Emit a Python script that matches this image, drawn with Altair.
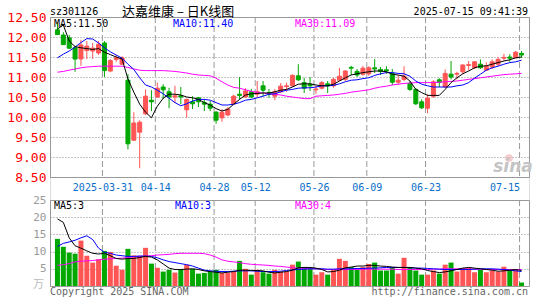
import altair as alt
import pandas as pd

# ---------------- data ----------------
dates = (
    ["2025-03-19", "2025-03-20", "2025-03-21", "2025-03-24", "2025-03-25", "2025-03-26",
     "2025-03-27", "2025-03-28", "2025-03-31"]
    + ["2025-04-%02d" % d for d in [1, 2, 3, 7, 8, 9, 10, 11, 14, 15, 16, 17, 18, 21, 22, 23, 24, 25, 28, 29, 30]]
    + ["2025-05-%02d" % d for d in [6, 7, 8, 9, 12, 13, 14, 15, 16, 19, 20, 21, 22, 23, 26, 27, 28, 29, 30]]
    + ["2025-06-%02d" % d for d in [3, 4, 5, 6, 9, 10, 11, 12, 13, 16, 17, 18, 19, 20, 23, 24, 25, 26, 27, 30]]
    + ["2025-07-%02d" % d for d in [1, 2, 3, 4, 7, 8, 9, 10, 11, 14, 15]]
)

opens = [12.18, 12.05, 11.98, 11.73, 11.45, 11.66, 11.65, 11.60, 11.85, 11.15,
         11.44, 11.32, 10.92, 9.42, 9.62, 10.08, 10.42, 10.50, 10.75, 10.63,
         10.50, 10.53, 10.18, 10.38, 10.48, 10.36, 10.32, 10.12, 9.98, 10.05,
         10.33, 10.57, 10.50, 10.63, 10.57, 10.78, 10.61, 10.52, 10.63, 10.76,
         10.78, 11.03, 10.86, 10.82, 10.68, 10.72, 10.83, 10.78, 10.92, 10.94,
         11.24, 11.14, 11.07, 11.08, 11.23, 11.19, 11.18, 11.09, 10.87, 10.94,
         10.84, 10.69, 10.38, 10.22, 10.52, 10.93, 10.75, 11.07, 11.07, 11.13,
         11.29, 11.23, 11.32, 11.17, 11.25, 11.32, 11.47, 11.50, 11.48, 11.59]
highs = [12.35, 12.12, 12.05, 11.78, 11.93, 11.90, 11.85, 11.90, 11.90, 11.45,
         11.55, 11.52, 11.07, 10.12, 9.92, 10.69, 10.67, 10.86, 10.82, 10.73,
         10.78, 10.75, 10.46, 10.52, 10.50, 10.44, 10.40, 10.15, 10.20, 10.25,
         10.55, 11.00, 10.72, 10.70, 10.90, 10.90, 10.70, 10.70, 10.85, 10.86,
         11.07, 11.32, 10.98, 11.00, 10.78, 10.90, 10.90, 10.98, 11.23, 11.17,
         11.28, 11.20, 11.28, 11.27, 11.45, 11.25, 11.27, 11.20, 11.05, 11.27,
         10.90, 10.72, 10.44, 10.57, 10.92, 10.97, 11.19, 11.40, 11.13, 11.32,
         11.40, 11.40, 11.44, 11.37, 11.44, 11.50, 11.58, 11.57, 11.65, 11.65]
lows = [12.05, 11.80, 11.70, 11.13, 11.28, 11.45, 11.45, 11.55, 11.00, 11.12,
        11.38, 11.30, 9.19, 9.40, 8.72, 10.05, 10.15, 10.48, 10.45, 10.22,
        10.35, 10.32, 9.98, 10.20, 10.25, 10.15, 10.15, 9.83, 9.88, 10.02,
        10.30, 10.44, 10.48, 10.47, 10.48, 10.52, 10.48, 10.42, 10.60, 10.63,
        10.75, 10.90, 10.60, 10.65, 10.58, 10.69, 10.60, 10.73, 10.90, 10.90,
        11.05, 11.00, 11.03, 11.03, 11.10, 11.05, 11.08, 10.80, 10.80, 10.90,
        10.65, 10.30, 10.20, 10.09, 10.48, 10.75, 10.73, 10.94, 10.94, 11.07,
        11.17, 11.20, 11.20, 11.16, 11.20, 11.27, 11.40, 11.38, 11.47, 11.48]
closes = [12.06, 11.81, 11.72, 11.45, 11.80, 11.77, 11.72, 11.82, 11.16, 11.41,
          11.48, 11.48, 9.33, 9.85, 9.87, 10.52, 10.38, 10.72, 10.68, 10.50,
          10.53, 10.50, 10.44, 10.33, 10.38, 10.32, 10.22, 9.92, 10.12, 10.20,
          10.52, 10.54, 10.65, 10.50, 10.63, 10.67, 10.57, 10.63, 10.77, 10.78,
          11.04, 10.93, 10.72, 10.78, 10.70, 10.86, 10.78, 10.94, 11.02, 11.15,
          11.22, 11.05, 11.22, 11.23, 11.20, 11.14, 11.15, 10.87, 10.92, 11.02,
          10.69, 10.33, 10.23, 10.47, 10.88, 10.87, 11.09, 11.00, 11.09, 11.30,
          11.31, 11.38, 11.23, 11.27, 11.38, 11.44, 11.49, 11.47, 11.62, 11.55]

volumes = [13.7, 11.4, 9.7, 9.4, 13.2, 8.8, 6.8, 7.8, 10.2, 9.9,
           5.9, 4.7, 10.8, 8.9, 8.8, 11.1, 6.5, 5.3, 4.2, 4.7,
           3.9, 4.9, 6.2, 5.0, 3.6, 3.8, 4.2, 4.7, 3.8, 3.8,
           4.2, 7.3, 5.0, 3.3, 4.7, 4.0, 3.6, 4.7, 4.2, 4.2,
           6.2, 7.1, 5.5, 5.2, 3.3, 4.0, 3.3, 4.7, 7.9, 7.3,
           5.5, 4.7, 5.5, 6.4, 6.8, 4.5, 4.5, 5.5, 3.6, 8.2,
           5.5, 4.5, 3.3, 3.3, 4.5, 3.6, 6.2, 6.8, 4.2, 5.2,
           5.3, 4.0, 4.7, 4.0, 4.5, 4.2, 5.6, 4.7, 4.7, 1.0]

ma5 = [12.20, 12.30, 11.90, 11.76, 11.73, 11.71, 11.69, 11.71, 11.62, 11.56,
       11.50, 11.45, 10.95, 10.62, 10.32, 10.12, 9.98, 10.27, 10.47, 10.57,
       10.57, 10.55, 10.50, 10.48, 10.44, 10.36, 10.30, 10.21, 10.15, 10.19,
       10.32, 10.44, 10.55, 10.58, 10.59, 10.60, 10.60, 10.63, 10.67, 10.69,
       10.75, 10.82, 10.83, 10.83, 10.80, 10.78, 10.78, 10.82, 10.90, 10.98,
       11.05, 11.08, 11.11, 11.13, 11.15, 11.15, 11.13, 11.07, 11.05, 11.02,
       10.90, 10.69, 10.61, 10.54, 10.54, 10.54, 10.69, 10.86, 10.98, 11.08,
       11.15, 11.23, 11.27, 11.28, 11.32, 11.36, 11.40, 11.43, 11.48, 11.50]
ma10 = [11.48, 11.57, 11.65, 11.75, 11.86, 11.96, 11.95, 11.85, 11.73, 11.63,
        11.55, 11.47, 11.32, 11.19, 10.98, 10.80, 10.75, 10.67, 10.58, 10.47,
        10.36, 10.28, 10.33, 10.40, 10.44, 10.44, 10.42, 10.36, 10.30, 10.30,
        10.32, 10.36, 10.42, 10.44, 10.48, 10.52, 10.57, 10.58, 10.63, 10.67,
        10.69, 10.72, 10.73, 10.73, 10.75, 10.78, 10.78, 10.79, 10.83, 10.88,
        10.92, 10.93, 10.96, 10.98, 11.04, 11.08, 11.11, 11.11, 11.09, 11.08,
        11.02, 10.90, 10.82, 10.78, 10.75, 10.75, 10.75, 10.75, 10.78, 10.80,
        10.86, 10.97, 11.07, 11.17, 11.23, 11.27, 11.32, 11.36, 11.38, 11.42]
ma30 = [11.12, 11.14, 11.17, 11.20, 11.23, 11.25, 11.26, 11.27, 11.27, 11.27,
        11.27, 11.27, 11.24, 11.20, 11.17, 11.16, 11.16, 11.16, 11.16, 11.15,
        11.14, 11.12, 11.10, 11.07, 11.05, 11.04, 11.03, 10.97, 10.88, 10.80,
        10.74, 10.72, 10.68, 10.64, 10.62, 10.60, 10.58, 10.57, 10.55, 10.52,
        10.50, 10.48, 10.46, 10.46, 10.52, 10.53, 10.54, 10.55, 10.57, 10.59,
        10.62, 10.64, 10.66, 10.68, 10.72, 10.75, 10.77, 10.80, 10.82, 10.84,
        10.85, 10.86, 10.86, 10.86, 10.86, 10.87, 10.88, 10.89, 10.90, 10.92,
        10.94, 10.96, 10.98, 11.00, 11.02, 11.04, 11.06, 11.07, 11.08, 11.09]

vma5 = [19.5, 18.5, 14.0, 11.7, 11.0, 10.2, 9.5, 9.3, 9.5, 8.8,
        8.0, 7.8, 8.0, 8.0, 8.3, 8.6, 8.4, 7.6, 6.4, 5.2,
        4.8, 4.8, 4.9, 5.0, 4.8, 4.4, 4.2, 4.0, 3.8, 4.0,
        4.2, 4.6, 4.6, 4.5, 4.5, 4.4, 4.0, 3.8, 4.0, 4.2,
        4.6, 5.3, 5.4, 5.4, 5.2, 4.8, 4.1, 4.2, 4.6, 5.3,
        5.5, 5.8, 5.8, 6.0, 6.0, 5.8, 5.7, 5.5, 5.4, 5.4,
        5.4, 5.2, 5.0, 4.5, 4.2, 3.9, 4.1, 4.4, 4.8, 5.2,
        5.4, 5.2, 5.0, 4.8, 4.6, 4.3, 4.4, 4.6, 4.8, 4.5]
vma10 = [11.5, 12.4, 12.8, 13.3, 14.0, 14.6, 13.5, 11.0, 9.8, 9.5,
         9.0, 8.8, 8.6, 8.6, 8.7, 8.7, 8.6, 8.2, 7.6, 7.1,
         6.8, 6.5, 6.2, 5.8, 5.2, 4.6, 4.4, 4.3, 4.2, 4.2,
         4.3, 4.4, 4.4, 4.4, 4.3, 4.2, 4.2, 4.2, 4.3, 4.5,
         4.7, 4.8, 4.9, 5.0, 5.0, 5.0, 4.9, 4.9, 5.0, 5.0,
         5.0, 5.1, 5.1, 5.2, 5.2, 5.3, 5.4, 5.4, 5.4, 5.4,
         5.3, 5.2, 5.2, 5.1, 5.0, 4.9, 4.8, 4.8, 4.8, 4.8,
         4.8, 4.9, 5.0, 5.0, 5.0, 4.9, 4.8, 4.6, 4.4, 4.2]
vma30 = [6.0, 6.2, 6.5, 7.0, 7.2, 7.3, 7.4, 7.6, 7.8, 7.9,
         8.0, 8.1, 8.3, 8.5, 8.6, 8.7, 8.8, 9.0, 9.1, 9.2,
         9.4, 9.5, 9.5, 9.5, 9.5, 9.4, 9.0, 8.4, 7.6, 7.2,
         7.0, 6.8, 6.5, 6.3, 6.2, 6.1, 6.0, 5.8, 5.7, 5.5,
         5.3, 5.2, 5.1, 5.0, 5.0, 4.9, 4.8, 4.8, 4.8, 4.8,
         4.8, 4.8, 4.9, 4.9, 4.9, 4.9, 4.9, 4.9, 4.8, 4.8,
         4.8, 4.8, 4.8, 4.8, 4.9, 4.9, 5.0, 5.0, 5.0, 5.0,
         4.9, 4.9, 4.9, 4.8, 4.8, 4.8, 4.8, 4.8, 4.8, 4.8]

label_dates = ["2025-03-31", "2025-04-14", "2025-04-28", "2025-05-12",
               "2025-05-26", "2025-06-09", "2025-06-23", "2025-07-15"]
label_texts = ["2025-03-31", "04-14", "04-28", "05-12", "05-26", "06-09", "06-23", "07-15"]
price_ticks = [8.5, 9.0, 9.5, 10.0, 10.5, 11.0, 11.5, 12.0, 12.5]
vol_ticks = [5, 10, 15, 20, 25]

# ---------------- tables ----------------
df = pd.DataFrame({
    "i": list(range(len(dates))), "date": dates,
    "open": opens, "high": highs, "low": lows, "close": closes, "vol": volumes,
    "ma5": ma5, "ma10": ma10, "ma30": ma30,
    "vma5": vma5, "vma10": vma10, "vma30": vma30,
})
df["dir"] = ["up" if c >= o else "down" for o, c in zip(opens, closes)]
label_idx = [dates.index(d) for d in label_dates]
grid_df = pd.DataFrame({"i": label_idx})

MONO = "DejaVu Sans Mono"
CJK = "Noto Sans CJK SC"
RED, GREEN = "#ff5555", "#00a800"
W, H = 479, 269

label_expr = "".join(f"round(datum.value) == {k} ? '{t}' : " for k, t in zip(label_idx, label_texts)) + "''"

x_axis = alt.Axis(values=label_idx, labelExpr=label_expr, title=None, grid=False, ticks=False,
                  tickSize=0, domain=False, labelFont=MONO, labelFontSize=10, labelColor="#0a6ecb",
                  labelPadding=5, labelOffset=-2, labelFlush=10, labelOverlap=False,
                  offset=-109, orient="bottom")
x_enc = alt.X("i:Q", scale=alt.Scale(domain=[-0.4167, 79.4167], nice=False, zero=False), axis=x_axis)

main_scale = alt.Scale(domain=[8.5, 12.5], range=[160, 0], nice=False, zero=False)
main_axis = alt.Axis(values=price_ticks, format=".2f", title=None, grid=True, gridColor="#8a8a8a",
                     gridDash=[1, 2], ticks=False, tickSize=0, domain=False, labelFont=MONO,
                     labelFontSize=13, labelColor="#ff0000", labelPadding=4, orient="left",
                     labelOverlap=False)
vol_scale = alt.Scale(domain=[0, 25], range=[269, 183], nice=False)
vol_axis = alt.Axis(values=vol_ticks, format="d", title=None, grid=True, gridColor="#8a8a8a",
                    gridDash=[1, 2], ticks=False, tickSize=0, domain=False, labelFont=MONO,
                    labelFontSize=11, labelColor="#999999", labelPadding=4, orient="left",
                    labelOverlap=False)

col_scale = alt.Scale(domain=["up", "down"], range=[RED, GREEN])


def ym(field):
    return alt.Y(field, type="quantitative", scale=main_scale, axis=main_axis)


def yv(field):
    return alt.Y(field, type="quantitative", scale=vol_scale, axis=vol_axis)


base = alt.Chart(df)

# ---- main (price) panel ----
vgrid_main = alt.Chart(grid_df).mark_rule(color="#9a9a9a", strokeDash=[6, 3], xOffset=-2).encode(
    x=x_enc, y=alt.value(0), y2=alt.value(160))
wick = base.mark_rule(strokeWidth=1).encode(
    x=x_enc, y=ym("low"), y2="high:Q",
    color=alt.Color("dir:N", scale=col_scale, legend=None))
body = base.mark_bar(size=4, strokeWidth=1).encode(
    x=x_enc, y=ym("open"), y2="close:Q",
    color=alt.Color("dir:N", scale=col_scale, legend=None),
    stroke=alt.Stroke("dir:N", scale=col_scale, legend=None))
l5 = base.mark_line(color="#000000", strokeWidth=1).encode(x=x_enc, y=ym("ma5"))
l10 = base.mark_line(color="#0000ff", strokeWidth=1).encode(x=x_enc, y=ym("ma10"))
l30 = base.mark_line(color="#ff00ff", strokeWidth=1).encode(x=x_enc, y=ym("ma30"))
main = alt.layer(vgrid_main, wick, body, l30, l10, l5)

# ---- volume panel ----
vgrid_vol = alt.Chart(grid_df).mark_rule(color="#9a9a9a", strokeDash=[6, 3], xOffset=-2).encode(
    x=x_enc, y=alt.value(183), y2=alt.value(269))
vbars = base.mark_bar(size=5).encode(
    x=x_enc, y=yv("vol"), color=alt.Color("dir:N", scale=col_scale, legend=None))
v5 = base.mark_line(color="#000000", strokeWidth=1).encode(x=x_enc, y=yv("vma5"))
v10 = base.mark_line(color="#0000ff", strokeWidth=1).encode(x=x_enc, y=yv("vma10"))
v30 = base.mark_line(color="#ff00ff", strokeWidth=1).encode(x=x_enc, y=yv("vma30"))
vol = alt.layer(vgrid_vol, vbars, v30, v10, v5)

# ---- decorations ----
one = alt.Data(values=[{"a": 1}])


def frame(y0, y1):
    return alt.Chart(one).mark_rect(fillOpacity=0, stroke="#999999", strokeWidth=1).encode(
        x=alt.value(0.5), x2=alt.value(479.5), y=alt.value(y0), y2=alt.value(y1))


def txt(s, x, y, color="#000000", size=10, font=MONO, align="left", **kw):
    return alt.Chart(one).mark_text(text=s, align=align, baseline="middle", font=font,
                                    fontSize=size, color=color, **kw).encode(
        x=alt.value(x), y=alt.value(y))


decor = [
    frame(0.5, 160.5), frame(183.5, 269.5),
    txt("sz301126", 0, -5.5),
    txt("达嘉维康 – 日K线图", 72, -5.5, size=13, font=CJK),
    txt("2025-07-15 09:41:39", 478, -5.5, align="right"),
    txt("MA5:11.50", 4, 7),
    txt("MA10:11.40", 123, 7, color="#0000ff"),
    txt("MA30:11.09", 245, 7, color="#ff00ff"),
    txt("MA5:3", 4, 189),
    txt("MA10:3", 125, 189, color="#0000ff"),
    txt("MA30:4", 245, 189, color="#ff00ff"),
    txt("万", -6, 268, color="#bbbbbb", size=11, font=CJK, align="right"),
    txt("Copyright 2025 SINA.COM", 0, 275, color="#666666"),
    txt("http://finance.sina.com.cn", 478, 275, color="#666666", align="right"),
    alt.Chart(one).mark_point(shape="circle", filled=True, color="#f2b8b8", size=60, opacity=0.7).encode(
        x=alt.value(459), y=alt.value(141)),
    txt("sina", 463, 150, color="#c4c4c4", size=17, font="DejaVu Sans", align="center",
        fontStyle="italic", fontWeight="bold"),
]

chart = alt.layer(main, vol, *decor).resolve_scale(y="independent").properties(
    width=W, height=H,
    autosize=alt.AutoSizeParams(type="none"),
    padding={"left": 50, "top": 17, "right": 16, "bottom": 14},
).configure_view(stroke=None).configure(background="white")

chart.save("out.html", embed_options={"renderer": "svg", "actions": False})
